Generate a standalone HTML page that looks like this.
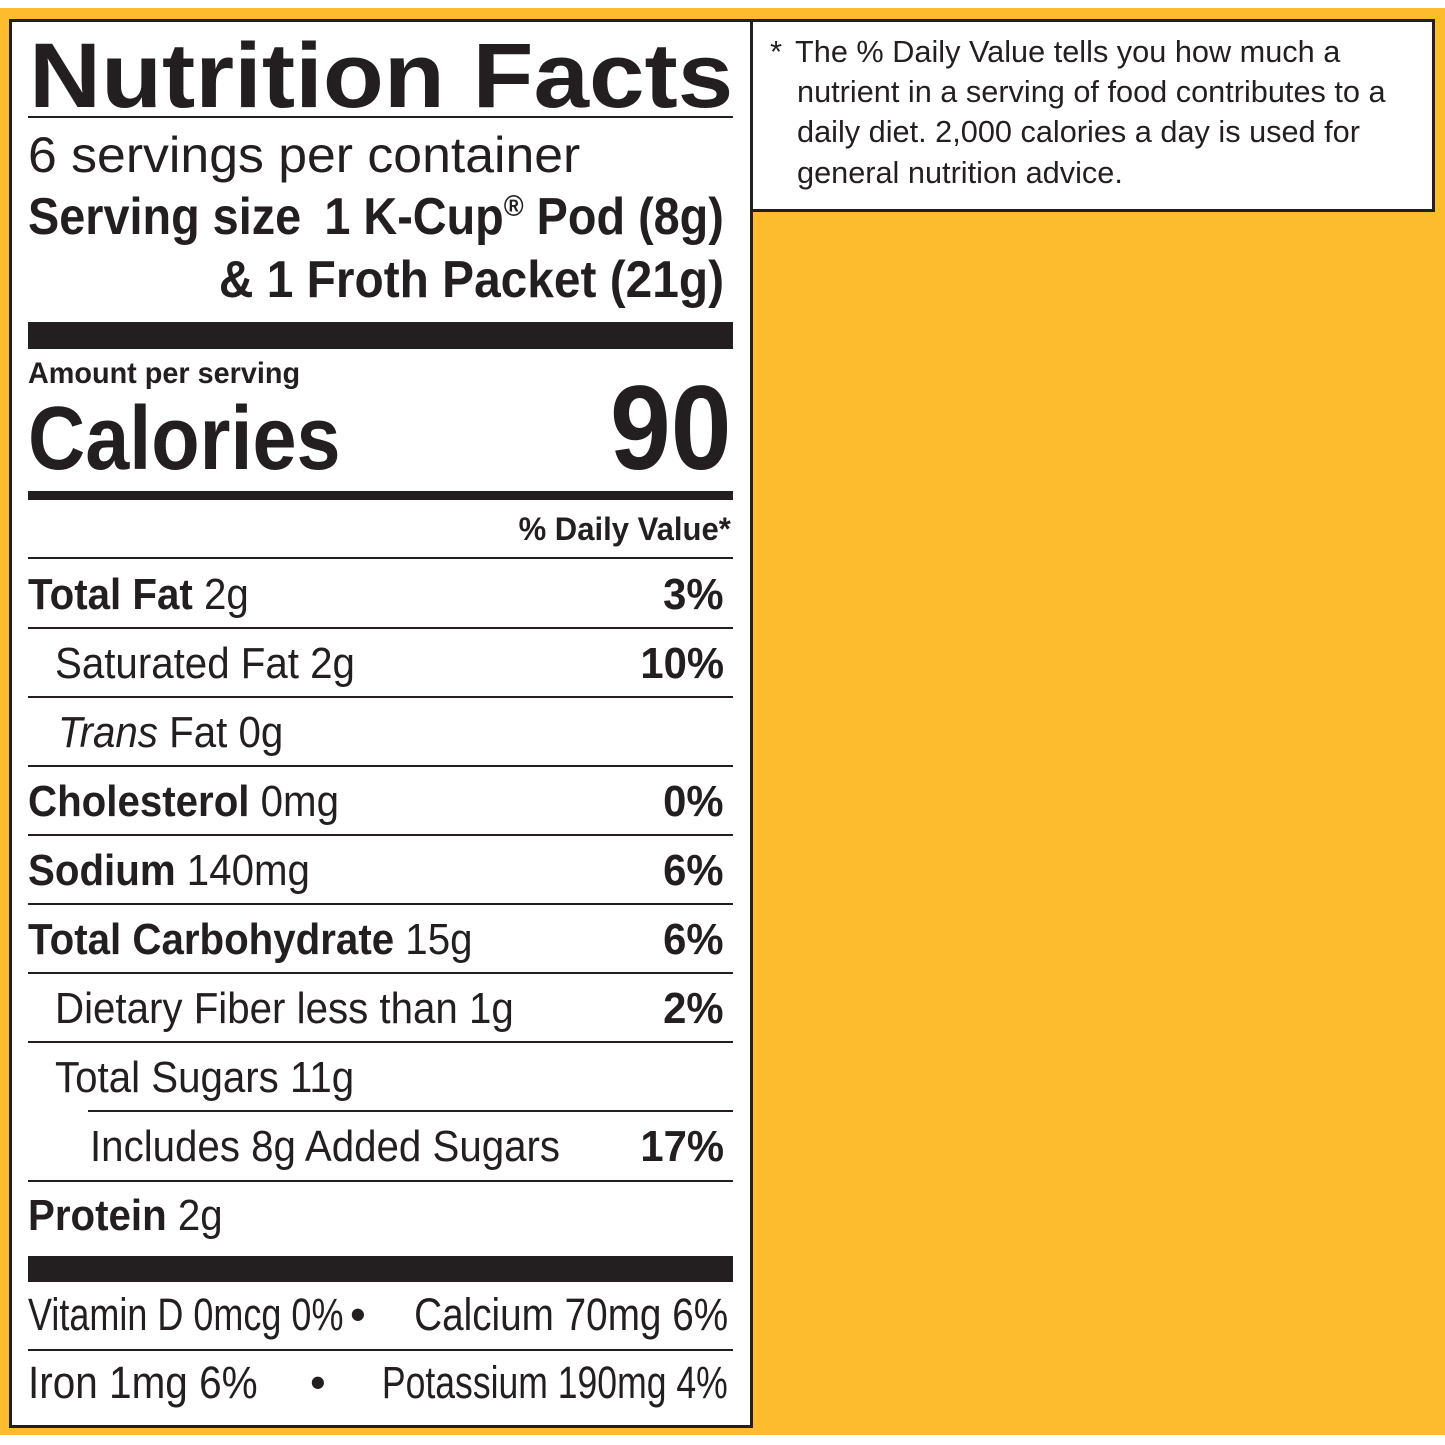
<!DOCTYPE html>
<html><head><meta charset="utf-8"><style>
html,body{margin:0;padding:0}
body{width:1445px;height:1445px;position:relative;background:#fff;overflow:hidden;font-family:"Liberation Sans",sans-serif;color:#231f20}
.y{position:absolute;left:0;top:8px;width:1445px;height:1427px;background:#fdbb2e}
.box{position:absolute;background:#fff;border:3px solid #231f20;box-sizing:border-box}
.t{position:absolute;white-space:nowrap;line-height:1;transform-origin:left center}
.s{transform:scaleX(0.915)}
.r{text-align:right;transform-origin:right center}
.p{transform:scaleX(0.95)}
.b{font-weight:bold}
.ln{position:absolute;left:28px;width:705px;background:#231f20}
</style></head><body>
<div class="y"></div>
<div class="box" style="left:9px;top:19px;width:744px;height:1409px"></div>
<div class="box" style="left:750px;top:19px;width:685px;height:193px"></div>

<div class="t b" style="left:29px;top:30px;font-size:92px;transform:scaleX(1.085)">Nutrition Facts</div>
<div class="ln" style="top:116px;height:2px"></div>
<div class="t" style="left:28px;top:130px;font-size:50px;transform:scaleX(1.035)">6 servings per container</div>
<div class="t b" style="left:28px;top:191px;font-size:52px;transform:scaleX(0.9)">Serving size</div>
<div class="t b r" style="right:721px;top:191px;font-size:52px;transform:scaleX(0.9)">1 K-Cup<span style="font-size:30px;vertical-align:18px">®</span> Pod (8g)</div>
<div class="t b r" style="right:721px;top:254px;font-size:52px;transform:scaleX(0.92)">&amp; 1 Froth Packet (21g)</div>
<div class="ln" style="top:322px;height:27px"></div>
<div class="t b" style="left:28px;top:359px;font-size:30px;transform:scaleX(0.96)">Amount per serving</div>
<div class="t b" style="left:28px;top:394px;font-size:90px;transform:scaleX(0.88)">Calories</div>
<div class="t b r" style="right:714px;top:368px;font-size:120px;transform:scaleX(0.91)">90</div>
<div class="ln" style="top:491px;height:9px"></div>
<div class="t b r" style="right:714px;top:513px;font-size:32px;transform:scaleX(0.97)">% Daily Value*</div>
<div class="ln" style="top:557px;height:2px"></div>

<div class="t s" style="left:28px;top:573px;font-size:44px"><b>Total Fat</b> 2g</div><div class="t b r p" style="right:721px;top:573px;font-size:44px">3%</div>
<div class="ln" style="top:627px;height:2px"></div>
<div class="t s" style="left:55px;top:642px;font-size:44px">Saturated Fat 2g</div><div class="t b r p" style="right:721px;top:642px;font-size:44px">10%</div>
<div class="ln" style="top:696px;height:2px"></div>
<div class="t s" style="left:58px;top:711px;font-size:44px"><i>Trans</i> Fat 0g</div>
<div class="ln" style="top:765px;height:2px"></div>
<div class="t s" style="left:28px;top:780px;font-size:44px"><b>Cholesterol</b> 0mg</div><div class="t b r p" style="right:721px;top:780px;font-size:44px">0%</div>
<div class="ln" style="top:834px;height:2px"></div>
<div class="t s" style="left:28px;top:849px;font-size:44px"><b>Sodium</b> 140mg</div><div class="t b r p" style="right:721px;top:849px;font-size:44px">6%</div>
<div class="ln" style="top:903px;height:2px"></div>
<div class="t s" style="left:28px;top:918px;font-size:44px"><b>Total Carbohydrate</b> 15g</div><div class="t b r p" style="right:721px;top:918px;font-size:44px">6%</div>
<div class="ln" style="top:972px;height:2px"></div>
<div class="t s" style="left:55px;top:987px;font-size:44px">Dietary Fiber less than 1g</div><div class="t b r p" style="right:721px;top:987px;font-size:44px">2%</div>
<div class="ln" style="top:1041px;height:2px"></div>
<div class="t s" style="left:55px;top:1056px;font-size:44px">Total Sugars 11g</div>
<div class="ln" style="top:1110px;height:2px;left:88px;width:645px"></div>
<div class="t s" style="left:90px;top:1125px;font-size:44px">Includes 8g Added Sugars</div><div class="t b r p" style="right:721px;top:1125px;font-size:44px">17%</div>
<div class="ln" style="top:1180px;height:2px"></div>
<div class="t s" style="left:28px;top:1194px;font-size:44px"><b>Protein</b> 2g</div>
<div class="ln" style="top:1256px;height:26px"></div>
<div class="t" style="left:28px;top:1292px;font-size:45px;transform:scaleX(0.8)">Vitamin D 0mcg 0%</div>
<div class="t" style="left:350px;top:1292px;font-size:45px">•</div>
<div class="t r" style="right:717px;top:1292px;font-size:45px;transform:scaleX(0.86)">Calcium 70mg 6%</div>
<div class="ln" style="top:1349px;height:2px"></div>
<div class="t" style="left:28px;top:1360px;font-size:45px;transform:scaleX(0.9)">Iron 1mg 6%</div>
<div class="t" style="left:310px;top:1360px;font-size:45px">•</div>
<div class="t r" style="right:717px;top:1360px;font-size:45px;transform:scaleX(0.79)">Potassium 190mg 4%</div>

<div class="t" style="left:770px;top:36px;font-size:31px">*</div>
<div class="t" style="left:795px;top:36px;font-size:31px;transform:scaleX(0.99)">The % Daily Value tells you how much a</div>
<div class="t" style="left:797px;top:76px;font-size:31px;transform:scaleX(0.99)">nutrient in a serving of food contributes to a</div>
<div class="t" style="left:797px;top:116px;font-size:31px;transform:scaleX(0.99)">daily diet. 2,000 calories a day is used for</div>
<div class="t" style="left:797px;top:157px;font-size:31px;transform:scaleX(0.99)">general nutrition advice.</div>
</body></html>
